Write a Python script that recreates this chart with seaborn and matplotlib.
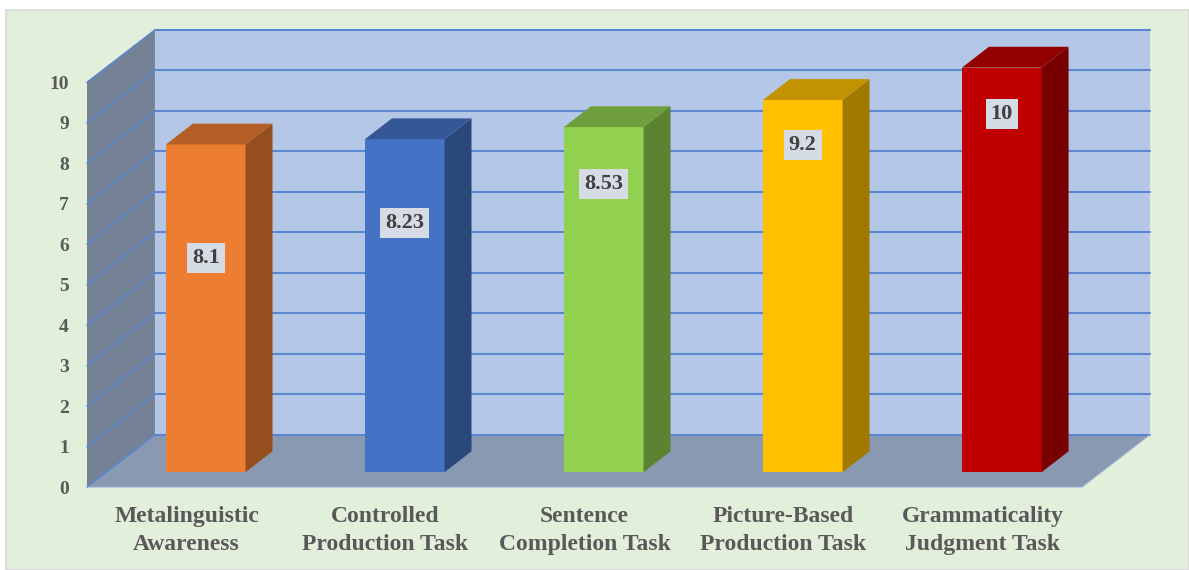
import matplotlib
matplotlib.use("Agg")
import matplotlib.pyplot as plt
import matplotlib.colors as mcolors
from matplotlib.patches import Polygon, Rectangle
import seaborn as sns
import pandas as pd

# data
tasks = ["Metalinguistic\nAwareness", "Controlled\nProduction Task", "Sentence\nCompletion Task",
         "Picture-Based\nProduction Task", "Grammaticality\nJudgment Task"]
scores = [8.1, 8.23, 8.53, 9.2, 10]
bar_colors = ["#ED7D31", "#4472C4", "#92D050", "#FFC000", "#C00000"]
# where the value boxes sit on each bar (in value units)
label_heights = [5.3, 6.15, 7.12, 8.08, 8.85]

# 3d look: depth offset of the back wall in data units
DX = 0.3414
DY = 1.296
T1 = 0.283   # bar front depth
T2 = 0.68    # bar back depth

sns.set_theme(style="white")
plt.rcParams["font.family"] = ["Liberation Serif", "DejaVu Serif"]

fig = plt.figure(figsize=(11.89, 5.70), dpi=100, facecolor="white")
fig.patches.append(Rectangle((6 / 1189, 0), 1 - 6 / 1189, 560 / 570, transform=fig.transFigure,
                             facecolor="#E2EFDA", edgecolor="#D9D9D9", linewidth=1.2, zorder=-10))
ax = fig.add_axes([87 / 1189, 83 / 570, 1063 / 1189, 457 / 570])
ax.set_facecolor("none")

df = pd.DataFrame({"task": tasks, "score": scores})
sns.barplot(data=df, x="task", y="score", hue="task", palette=bar_colors, width=0.4,
            saturation=1, legend=False, ax=ax, zorder=5, linewidth=0)

x0, x1 = -0.5, len(tasks) - 0.5
ymax = 10
grid_c = "#5B86D0"

# back wall, left wall and floor
ax.add_patch(Rectangle((x0 + DX, DY), x1 - x0, ymax, facecolor="#B4C7E7", edgecolor="none", zorder=1))
ax.add_patch(Polygon([(x0, 0), (x0 + DX, DY), (x0 + DX, ymax + DY), (x0, ymax)],
                     facecolor="#758195", edgecolor="none", zorder=1))
ax.add_patch(Polygon([(x0, 0), (x1, 0), (x1 + DX, DY), (x0 + DX, DY)],
                     facecolor="#8A99B2", edgecolor="none", zorder=1))
for k in range(ymax + 1):
    ax.plot([x0 + DX, x1 + DX], [k + DY, k + DY], color=grid_c, lw=1.5, zorder=2, clip_on=False)
    ax.plot([x0, x0 + DX], [k, k + DY], color=grid_c, lw=1.2, zorder=2, clip_on=False)
ax.plot([x0, x1, x1 + DX], [0, 0, DY], color="#9DB0D3", lw=0.8, zorder=2, clip_on=False)

# move bars into the box and give them sides and tops
d = T2 - T1
for p, c in zip(ax.patches[:len(scores)], bar_colors):
    p.set_x(p.get_x() + T1 * DX)
    p.set_y(T1 * DY)
    bx, by, w, h = p.get_x(), p.get_y(), p.get_width(), p.get_height()
    rgb = mcolors.to_rgb(c)
    side = tuple(v * 0.63 for v in rgb)
    top = tuple(v * 0.76 for v in rgb)
    ax.add_patch(Polygon([(bx + w, by), (bx + w + d * DX, by + d * DY),
                          (bx + w + d * DX, by + h + d * DY), (bx + w, by + h)],
                         facecolor=side, edgecolor="none", zorder=5, clip_on=False))
    ax.add_patch(Polygon([(bx, by + h), (bx + d * DX, by + h + d * DY),
                          (bx + w + d * DX, by + h + d * DY), (bx + w, by + h)],
                         facecolor=top, edgecolor="none", zorder=5, clip_on=False))

for i, (s, ly) in enumerate(zip(scores, label_heights)):
    ax.text(i + T1 * DX, ly + T1 * DY, f"{s:g}", ha="center", va="center", fontsize=16,
            fontweight="bold", color="#404040", zorder=7,
            bbox=dict(boxstyle="square,pad=0.22", facecolor="#D6DCE5", edgecolor="none"))

ax.set_xlim(x0, x1 + DX)
ax.set_ylim(0, ymax + DY)
ax.set_yticks(range(ymax + 1))
ax.set_yticklabels([str(k) for k in range(ymax + 1)])
ax.tick_params(axis="y", length=0, pad=13, labelsize=14, labelcolor="#595959")
ax.tick_params(axis="x", length=0, pad=14, labelsize=17, labelcolor="#595959")
for lab in ax.get_yticklabels() + ax.get_xticklabels():
    lab.set_fontweight("bold")
for lab in ax.get_xticklabels():
    lab.set_linespacing(1.4)
ax.set_xlabel("")
ax.set_ylabel("")
for sp in ax.spines.values():
    sp.set_visible(False)
ax.grid(False)

fig.savefig("out.png", dpi=100, facecolor=fig.get_facecolor())
